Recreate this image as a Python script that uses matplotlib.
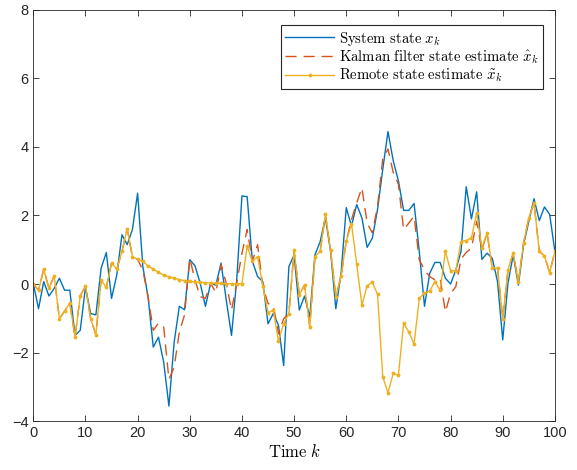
import numpy as np
import matplotlib
matplotlib.use("Agg")
import matplotlib.pyplot as plt

plt.rcParams['mathtext.fontset'] = 'cm'
plt.rcParams['font.family'] = ['Liberation Sans', 'DejaVu Sans']

# time steps
k = np.arange(0, 101)

# system state x_k
x_true = [0.02, -0.72, 0.07, -0.35, -0.13, 0.17, -0.18, -0.18, -1.5, -1.35,
          -0.1, -0.86, -0.9, 0.46, 0.92, -0.42, 0.26, 1.44, 1.15, 1.59,
          2.65, 0.51, -0.37, -1.84, -1.55, -2.28, -3.56, -1.7, -0.65, -0.75,
          0.71, 0.53, 0.02, -0.65, 0.02, -0.03, 0.61, -0.47, -1.5, 0.12,
          2.57, 2.55, 0.66, 0.22, 0.07, -1.16, -0.86, -1.2, -2.38, 0.51,
          0.85, -0.76, -0.35, -0.96, 0.85, 1.24, 1.93, 0.95, -0.72, 0.3,
          2.23, 1.69, 2.32, 1.93, 1.07, 1.34, 2.18, 3.35, 4.45, 3.6,
          3.01, 2.15, 2.15, 2.35, 0.95, -0.65, 0.31, 0.63, 0.63, 0.17,
          0.0, 0.41, 0.95, 2.84, 1.9, 2.69, 0.72, 0.9, 0.75, 0.07,
          -1.63, 0.02, 0.85, -0.03, 1.15, 1.83, 2.49, 1.85, 2.25, 2.03,
          0.95]

# Kalman filter estimate
x_kf = [0.0, -0.18, 0.43, -0.13, 0.24, -1.01, -0.79, -0.55, -1.55, -0.35,
        -0.06, -1.01, -1.48, 0.12, -0.1, 0.61, 0.43, 0.95, 1.61, 0.8,
        0.72, 0.41, -0.37, -1.35, -1.14, -1.25, -2.78, -2.43, -1.4, -0.9,
        0.75, 0.12, -0.37, -0.42, 0.02, -0.25, 0.56, 0.02, -0.76, 0.02,
        0.9, 1.59, 0.66, 1.15, -0.06, -0.57, -0.62, -1.45, -1.01, -0.86,
        0.98, -0.32, -0.03, -1.25, 0.8, 0.95, 2.03, 0.98, -0.37, 0.22,
        1.25, 1.88, 2.37, 2.81, 1.78, 1.49, 2.27, 3.65, 3.94, 3.26,
        2.91, 1.59, 1.78, 1.98, 0.71, 0.41, 0.22, 0.12, 0.17, -0.81,
        -0.28, -0.08, 0.73, 0.92, 1.05, 1.83, 1.0, 1.49, 0.46, 0.46,
        -1.01, 0.41, 0.9, 0.07, 1.2, 1.93, 2.37, 0.95, 0.82, 0.33,
        0.95]

# remote state estimate
x_remote = [0.0, -0.18, 0.43, -0.13, 0.24, -1.01, -0.79, -0.55, -1.55, -0.35,
            -0.06, -1.01, -1.48, 0.12, -0.1, 0.61, 0.43, 0.95, 1.61, 0.8,
            0.72, 0.66, 0.53, 0.43, 0.34, 0.26, 0.21, 0.17, 0.13, 0.1,
            0.08, 0.06, 0.05, 0.04, 0.03, 0.02, 0.02, 0.01, 0.01, 0.01,
            0.01, 1.1, 0.66, 0.8, -0.06, -0.84, -0.76, -1.65, -1.16, -0.86,
            0.98, -0.32, -0.03, -1.25, 0.8, 0.95, 2.03, 0.98, -0.37, 0.22,
            1.25, 1.76, 0.59, -0.62, -0.05, 0.05, -0.3, -2.71, -3.17, -2.61,
            -2.66, -1.14, -1.4, -1.75, -0.42, -0.27, -0.2, 0.07, -0.18, 0.95,
            0.39, 0.39, 1.24, 1.27, 1.34, 2.08, 1.05, 1.49, 0.46, 0.46,
            -1.01, 0.41, 0.9, 0.07, 1.2, 1.93, 2.37, 0.95, 0.82, 0.33,
            0.95]

fig = plt.figure(figsize=(5.77, 4.70), dpi=100)
ax = fig.add_axes([0.0577, 0.104, 0.904, 0.875])

ax.plot(k, x_true, color='#0072BD', lw=1.0, label=r'$\mathrm{System\ state}\ x_k$')
ax.plot(k, x_kf, color='#D95319', lw=1.0, linestyle=(0, (8, 5)),
        label=r'$\mathrm{Kalman\ filter\ state\ estimate}\ \hat{x}_k$')
ax.plot(k, x_remote, color='#EDB120', lw=1.0, marker='.', markersize=3.5,
        label=r'$\mathrm{Remote\ state\ estimate}\ \tilde{x}_k$')

ax.set_xlim(0, 100)
ax.set_ylim(-4, 8)
ax.set_xticks(np.arange(0, 101, 10))
ax.set_yticks(np.arange(-4, 9, 2))
ax.tick_params(direction='in', top=True, right=True, length=4, width=0.6,
               labelsize=10.5, colors='#262626')
for s in ax.spines.values():
    s.set_linewidth(0.6)
    s.set_color('#262626')

ax.set_xlabel(r'$\mathrm{Time}\ k$', fontsize=12, labelpad=2)

leg = ax.legend(loc='upper right', bbox_to_anchor=(0.977, 0.963), borderaxespad=0,
                fontsize=10.6, fancybox=False, edgecolor='#262626', framealpha=1,
                handlelength=3.3, handletextpad=0.32, labelspacing=0.05,
                borderpad=0.3)
leg.get_frame().set_linewidth(0.8)

fig.savefig('out.png', dpi=100)
